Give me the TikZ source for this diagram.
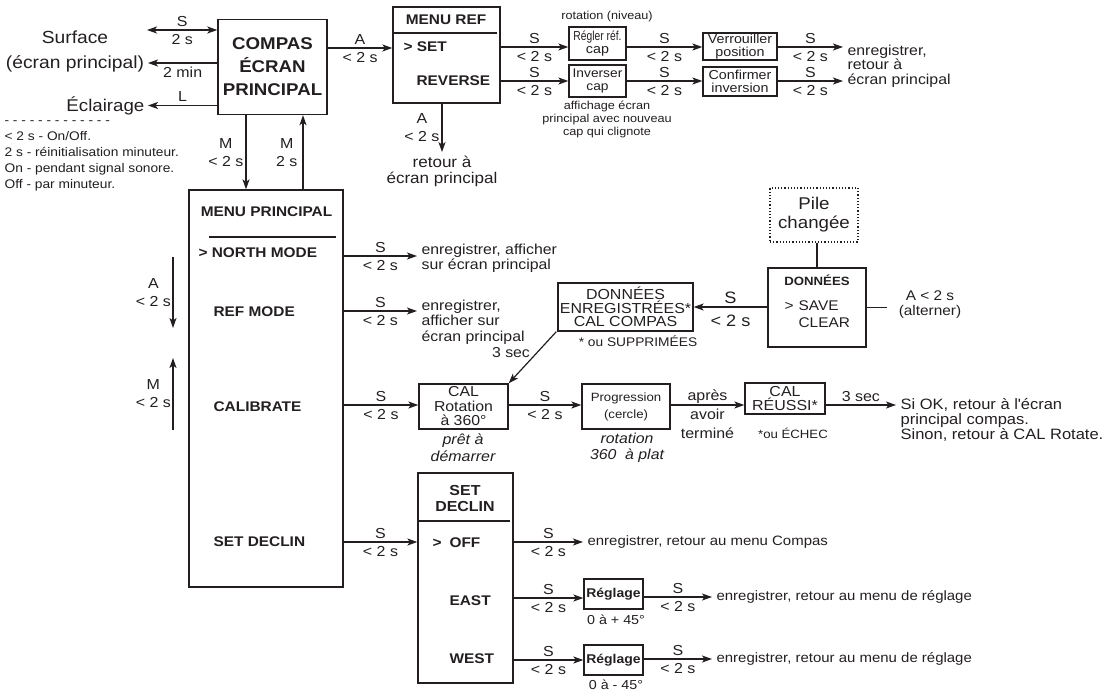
\documentclass[tikz,border=0pt]{standalone}
\usepackage{fontspec}
\setmainfont{Liberation Sans}[FakeStretch=1.1]
\usepackage{graphicx}
\usetikzlibrary{arrows.meta,calc}
\definecolor{ink}{HTML}{231F20}
\newcommand{\myfs}[2]{\fontsize{#1}{#2}\selectfont}
\tikzset{
  box/.style={draw, line width=1.3pt, inner sep=0pt},
  lab/.style={font=\myfs{14.5}{16}, inner sep=1pt},
  la/.style={lab, above=2pt},
  lb/.style={lab, below=2.5pt},
  lab2/.style={inner sep=1pt, align=center, font=\myfs{14.5}{18}},
  bf/.style={font=\bfseries\myfs{14}{16}, inner sep=0pt},
  dst/.style={anchor=west, align=left, inner xsep=4pt, inner ysep=0pt},
  conn/.style={->, line width=1.2pt},
}
\begin{document}
\begin{tikzpicture}[x=1pt, y=-1pt, color=ink, line width=1.2pt,
  >={Stealth[length=10pt,width=7pt,inset=2.5pt]}]
\useasboundingbox (0,0) rectangle (1108,694);

% ---------------- row coordinates
\coordinate (rS) at (147,30);
\coordinate (r2m) at (148,63);
\coordinate (rA) at (0,48);
\coordinate (rSET) at (0,47);
\coordinate (rREV) at (0,81);
\coordinate (rN) at (0,256);
\coordinate (rR) at (0,311);
\coordinate (rC) at (0,405);
\coordinate (rD) at (0,542);
\coordinate (rE) at (0,598);
\coordinate (rW) at (0,660);
\coordinate (rDS) at (0,307);
\coordinate (mDn) at (246,0);
\coordinate (mUp) at (303,0);

% ---------------- compas
\node[box, line width=1.4pt, minimum width=109pt, minimum height=95pt, align=center,
      font=\bfseries\myfs{17}{23}] (compas) at (272.5,67) {COMPAS\\ÉCRAN\\PRINCIPAL};

\node[align=center, font=\myfs{17.5}{25}, inner sep=0pt] (surface) at (75,51) {Surface\\(écran principal)};
\node[anchor=east, font=\myfs{17}{20}, inner sep=0pt] (ecl) at (145,105.5) {Éclairage};

\draw[<->] (rS) -- (rS -| compas.west) node[midway,la]{S} node[midway,lb]{2 s};
\draw[conn] (r2m -| compas.west) -- (r2m) node[midway,lb]{2 min};
\draw[conn] (compas.west |- ecl.east) -- ([xshift=3pt]ecl.east) node[midway,la]{L};

\node[anchor=west, align=left, font=\myfs{12.5}{16}, inner sep=0pt] (notes) at (4,156)
  {- - - - - - - - - - - - -\\< 2 s - On/Off.\\2 s - réinitialisation minuteur.\\On - pendant signal sonore.\\Off - par minuteur.};

% ---------------- menu principal
\node[box, minimum width=154pt, minimum height=397pt] (mp) at (266,388.5) {};
\node[font=\bfseries\myfs{14}{16}] (mpt) at (266.5,212) {MENU PRINCIPAL};
\coordinate (sepMl) at (209,237);
\coordinate (sepMr) at (336,237);
\draw (sepMl) -- (sepMr);
\node[bf, anchor=west] (north) at (198,253) {> NORTH MODE};
\node[bf, anchor=west] (refm) at (213,312) {REF MODE};
\node[bf, anchor=west] (cal) at (213,407) {CALIBRATE};
\node[bf, anchor=west] (setdl) at (213,542) {SET DECLIN};

\draw[conn] (mDn |- compas.south) -- (mDn |- mp.north) node[midway,left=1pt,lab2]{M\\< 2 s};
\draw[conn] (mUp |- mp.north) -- (mUp |- compas.south) node[midway,left=4pt,lab2]{M\\2 s};

\coordinate (aT) at (173,257);
\coordinate (aB) at (173,328);
\draw[conn] (aT) -- (aB) node[midway,left=0.5pt,lab2]{A\\< 2 s};
\coordinate (mB) at (173,430);
\coordinate (mT) at (173,358);
\draw[conn] (mB) -- (mT) node[midway,left=0.5pt,lab2]{M\\< 2 s};

% ---------------- menu ref
\node[box, minimum width=107pt, minimum height=96pt] (mref) at (446.5,55) {};
\node[font=\bfseries\myfs{14}{16}] (mreft) at (446,20) {MENU REF};
\coordinate (sepRl) at (393,33);
\coordinate (sepRr) at (497,33);
\draw (sepRl) -- (sepRr);
\node[bf, anchor=west] (mset) at (403,47) {> SET};
\node[bf, anchor=west] (mrev) at (416,81) {REVERSE};

\draw[conn] (compas.east |- rA) -- (mref.west |- rA) node[midway,la]{A} node[midway,lb]{< 2 s};

\node[align=center, font=\myfs{15.5}{16}, inner sep=0pt] (ret) at (442,171) {retour à\\écran principal};
\draw[conn] (mref.south -| ret.north) -- ([yshift=3pt]ret.north) node[midway,left=1pt,lab2]{A\\< 2 s};

\node[box, minimum width=57pt, minimum height=33pt, align=center, font=\myfs{13}{13}] (regler) at (597.5,43.5)
  {\scalebox{0.72}[1]{Régler réf.}\\cap};
\node[font=\myfs{11.5}{13}] (rotniv) at (607,17) {rotation (niveau)};
\node[box, minimum width=74pt, minimum height=27pt, align=center, font=\myfs{13}{13}] (verr) at (740,46.5)
  {Verrouiller\\position};
\node[dst, font=\myfs{14.4}{14.5}] (enr1) at (843,66) {enregistrer,\\retour à\\écran principal};

\node[box, minimum width=57pt, minimum height=32pt, align=center, font=\myfs{12.5}{13}] (inv) at (597.5,81)
  {Inverser\\cap};
\node[align=center, font=\myfs{11.5}{13}] (aff) at (607,119) {affichage écran\\principal avec nouveau\\cap qui clignote};
\node[box, minimum width=74pt, minimum height=29pt, align=center, font=\myfs{13}{13}] (conf) at (740,81.5)
  {Confirmer\\inversion};

\draw[conn] (mref.east |- rSET) -- (regler.west |- rSET) node[midway,la]{S} node[midway,lb]{< 2 s};
\draw[conn] (regler.east |- rSET) -- (verr.west |- rSET) node[midway,la]{S} node[midway,lb]{< 2 s};
\draw[conn] (verr.east |- rSET) -- (enr1.west |- rSET) node[midway,la]{S} node[midway,lb]{< 2 s};
\draw[conn] (mref.east |- rREV) -- (inv.west |- rREV) node[midway,la]{S} node[midway,lb]{< 2 s};
\draw[conn] (inv.east |- rREV) -- (conf.west |- rREV) node[midway,la]{S} node[midway,lb]{< 2 s};
\draw[conn] (conf.east |- rREV) -- (enr1.west |- rREV) node[midway,la]{S} node[midway,lb]{< 2 s};

% ---------------- north / ref mode
\node[dst, font=\myfs{14.4}{15}] (ntext) at (417,258) {enregistrer, afficher\\sur écran principal};
\node[dst, font=\myfs{14.4}{15.5}] (rtext) at (417,322) {enregistrer,\\afficher sur\\écran principal};
\draw[conn] (mp.east |- rN) -- (ntext.west |- rN) node[midway,la]{S} node[midway,lb]{< 2 s};
\draw[conn] (mp.east |- rR) -- (rtext.west |- rR) node[midway,la]{S} node[midway,lb]{< 2 s};

% ---------------- données
\node[draw, dotted, line width=1.2pt, minimum width=88pt, minimum height=54pt, align=center,
      font=\myfs{17}{19}, inner sep=0pt] (pile) at (814,215) {Pile\\changée};
\node[box, minimum width=98pt, minimum height=79pt] (don) at (817,307.5) {};
\node[font=\bfseries\myfs{12}{14}] (dont) at (817,280) {DONNÉES};
\node[font=\myfs{14}{17}, inner sep=0pt] (gt) at (789,306) {>};
\node[anchor=west, align=left, font=\myfs{14}{17}, inner sep=0pt] (sc) at (798,314.5) {SAVE\\CLEAR};
\draw (don.north |- pile.south) -- (don.north);
\node[align=center, font=\myfs{14}{15}, inner sep=0pt] (alt) at (930,304.5) {A < 2 s\\(alterner)};
\coordinate (altL) at ([xshift=-11pt]alt.west);
\draw (don.east) -- (don.east -| altL);

\node[box, minimum width=135pt, minimum height=48pt, align=center, font=\myfs{14.5}{13.5}] (dsave) at (625.5,307)
  {DONNÉES\\ENREGISTRÉES*\\CAL COMPAS};
\node[font=\myfs{12.5}{14}] (supp) at (638,341) {* ou SUPPRIMÉES};
\draw[conn] (don.west |- rDS) -- (dsave.east |- rDS)
  node[midway, above=2pt, font=\myfs{16.5}{18}, inner sep=1pt]{S}
  node[midway, below=6pt, font=\myfs{16.5}{18}, inner sep=1pt]{< 2 s};

% ---------------- calibrate row
\node[box, minimum width=89pt, minimum height=45pt, align=center, font=\myfs{14.4}{14.5}] (calrot) at (463.5,406.5)
  {CAL\\Rotation\\à 360°};
\node[align=center, font=\itshape\myfs{14.5}{17}] (pret) at (463,448) {prêt à\\démarrer};
\node[font=\myfs{14.4}{16}] (s3) at (511,353) {3 sec};
\draw[conn] ([xshift=-1pt]dsave.south west) -- (calrot.north east);

\node[box, minimum width=88pt, minimum height=45pt, align=center, font=\myfs{12}{17}] (prog) at (626,406.5)
  {Progression\\(cercle)};
\node[align=center, font=\itshape\myfs{14.4}{16}] (rot360) at (627,447.5) {rotation\\360~~à plat};
\node[box, minimum width=80pt, minimum height=31pt, align=center, font=\myfs{14.5}{12.5}] (calok) at (785,398.5)
  {CAL\\RÉUSSI*};
\node[font=\myfs{12}{14}] (echec) at (793,433) {*ou ÉCHEC};
\node[dst, font=\myfs{15}{15}] (sok) at (896,420)
  {Si OK, retour à l\textquotesingle écran\\principal compas.\\Sinon, retour à CAL Rotate.};

\draw[conn] (mp.east |- rC) -- (calrot.west |- rC) node[midway,la]{S} node[midway,lb]{< 2 s};
\draw[conn] (calrot.east |- rC) -- (prog.west |- rC) node[midway,la]{S} node[midway,lb]{< 2 s};
\draw[conn] (prog.east |- rC) -- (calok.west |- rC)
  node[midway, above=0pt, font=\myfs{14.5}{16}, inner sep=1pt]{après}
  node[midway, below=2pt, align=center, font=\myfs{14.5}{19}, inner sep=1pt]{avoir\\terminé};
\draw[conn] (calok.east |- rC) -- (sok.west |- rC) node[midway,la]{3 sec};

% ---------------- set declin
\node[box, minimum width=95pt, minimum height=210pt] (setd) at (465.5,578) {};
\node[align=center, font=\bfseries\myfs{14.5}{16}] (setdt) at (465,498) {SET\\DECLIN};
\coordinate (sepDl) at (418,521);
\coordinate (sepDr) at (510,521);
\draw (sepDl) -- (sepDr);
\node[font=\bfseries\myfs{14}{16}, inner sep=0pt] (gt2) at (437,543) {>};
\node[bf, anchor=west] (off) at (449,543) {OFF};
\node[bf, anchor=west] (east) at (449,601) {EAST};
\node[bf, anchor=west] (west) at (449,659) {WEST};

\node[dst, font=\myfs{13.6}{16}] (offt) at (583,542) {enregistrer, retour au menu Compas};
\node[box, minimum width=59pt, minimum height=30pt, font=\bfseries\myfs{12.7}{14}] (reg1) at (613.5,594) {Réglage};
\node[font=\myfs{13}{14}] (r1v) at (616,620) {0 à + 45°};
\node[dst, font=\myfs{13.6}{16}] (et) at (712,597) {enregistrer, retour au menu de réglage};
\node[box, minimum width=59pt, minimum height=30pt, font=\bfseries\myfs{12.7}{14}] (reg2) at (613.5,660) {Réglage};
\node[font=\myfs{13}{14}] (r2v) at (616,685) {0 à - 45°};
\node[dst, font=\myfs{13.6}{16}] (wt) at (712,659) {enregistrer, retour au menu de réglage};

\draw[conn] (mp.east |- rD) -- (setd.west |- rD) node[midway,la]{S} node[midway,lb]{< 2 s};
\draw[conn] (setd.east |- rD) -- (offt.west |- rD) node[midway,la]{S} node[midway,lb]{< 2 s};
\draw[conn] (setd.east |- rE) -- (reg1.west |- rE) node[midway,la]{S} node[midway,lb]{< 2 s};
\draw[conn] (reg1.east |- et.west) -- (et.west) node[midway,la]{S} node[midway,lb]{< 2 s};
\draw[conn] (setd.east |- rW) -- (reg2.west |- rW) node[midway,la]{S} node[midway,lb]{< 2 s};
\draw[conn] (reg2.east |- wt.west) -- (wt.west) node[midway,la]{S} node[midway,lb]{< 2 s};
\end{tikzpicture}
\end{document}
